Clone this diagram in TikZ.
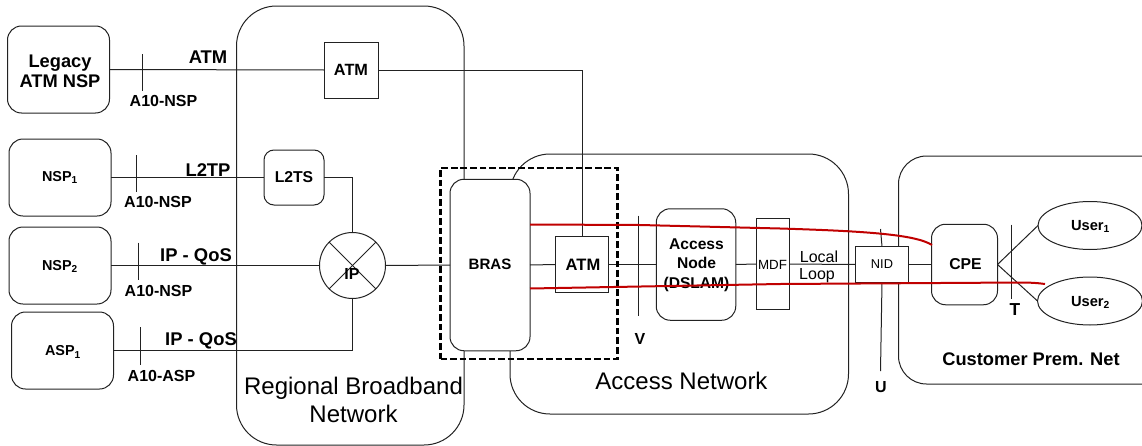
\documentclass[tikz,border=0pt]{standalone}
\usepackage{fontspec}
\usetikzlibrary{shapes.geometric}
\setmainfont{Liberation Sans}
\definecolor{redline}{HTML}{C00000}
\definecolor{ink}{HTML}{222222}
\newcommand{\pxfont}[1]{\fontsize{#1}{#1}\selectfont}
\tikzset{
  sz/.style 2 args={minimum width=#1*0.75pt,minimum height=#2*0.75pt},
  base/.style={draw=ink,line width=0.75pt,inner sep=0pt,outer sep=0pt,align=center},
  sharp/.style={base,rectangle,fill=white},
  softbox/.style={base,rectangle,fill=white,rounded corners=10.5pt},
  l2box/.style={base,rectangle,fill=white,rounded corners=7.5pt},
  region/.style={base,rectangle,rounded corners=30pt},
  cpnet/.style={base,rectangle,rounded corners=21pt},
  userell/.style={base,ellipse,fill=white},
  wire/.style={draw=ink,line width=0.75pt},
  redwire/.style={draw=redline,line width=1.5pt},
  dashbox/.style={draw=black,line width=1.6pt,dash pattern=on 5pt off 2.2pt},
  bigtxt/.style={inner sep=0pt,font=\pxfont{13.7}\bfseries,align=center},
  lbl/.style={inner sep=0pt,font=\pxfont{11.8}\bfseries,align=center},
  proto/.style={inner sep=0pt,font=\pxfont{13.8}\bfseries},
  reftxt/.style={inner sep=0pt,font=\pxfont{12}\bfseries},
  regtxt/.style={inner sep=0pt,font=\pxfont{18},align=center},
  thintxt/.style={inner sep=0pt,font=\pxfont{12},align=center}
}
\begin{document}
\begin{tikzpicture}[x=0.75pt,y=-0.75pt]
\useasboundingbox (0,0) rectangle (1142,446);
\clip (0,0) rectangle (1142,446);
% containers
\node[region,sz={227.5}{439}] (rbn) at (350.25,225.5) {};
\node[region,sz={338.5}{260}] (an) at (679.25,284) {};
\node[cpnet,sz={280}{228}] (cpn) at (1038.5,270) {};
% connector end points
\coordinate (t1a) at (142.5,54);  \coordinate (t1b) at (142.5,91);
\coordinate (t2a) at (136.5,155); \coordinate (t2b) at (136.5,192);
\coordinate (t3a) at (138,242.5); \coordinate (t3b) at (138,280);
\coordinate (t4a) at (140.5,327); \coordinate (t4b) at (140.5,365);
\coordinate (va) at (638.5,215.5); \coordinate (vb) at (638.5,316);
\coordinate (ua) at (880.5,229);  \coordinate (ub) at (880.5,371);
\coordinate (ta) at (1011.5,224.5); \coordinate (tb) at (1011.5,299);
\coordinate (elbowA) at (582,70);
\coordinate (elbowB) at (352.5,350.5);
\coordinate (elbowC) at (352.5,177.5);
% boxes
\node[softbox,sz={102}{87}] (legacy) at (58.5,69.5) {};
\node[softbox,sz={102}{77}] (nsp1) at (60,177.5) {};
\node[softbox,sz={102}{77}] (nsp2) at (60,265.5) {};
\node[softbox,sz={102}{77}] (asp1) at (62.5,350.5) {};
\node[sharp,sz={54}{56}] (atma) at (351,70) {};
\node[l2box,sz={60}{55}] (l2ts) at (294,177.5) {};
\node[base,circle,fill=white,minimum size=66*0.75pt] (ip) at (352.5,265.5) {};
\node[sharp,sz={53.5}{55.5}] (atmb) at (582,264.5) {};
\node[softbox,sz={79.5}{111.5}] (dslam) at (696,264.5) {};
\node[sharp,sz={33}{91}] (mdf) at (773,264) {};
\node[sharp,sz={53.5}{36}] (nid) at (882,264.5) {};
\node[softbox,sz={66}{80.5}] (cpe) at (964.5,264.5) {};
% connectors
\draw[wire] (legacy.east) -- (atma.west);
\draw[wire] (atma.east) -- (elbowA) -- (atmb.north);
\draw[wire] (nsp1.east) -- (l2ts.west);
\draw[wire] (l2ts.east) -- (elbowC) -- (ip.north);
\draw[wire] (nsp2.east) -- (ip.west);
\draw[wire] (asp1.east) -- (elbowB) -- (ip.south);
\draw[wire] (ip.45) -- (ip.225);
\draw[wire] (ip.135) -- (ip.315);
\draw[wire] (t1a) -- (t1b);
\draw[wire] (t2a) -- (t2b);
\draw[wire] (t3a) -- (t3b);
\draw[wire] (t4a) -- (t4b);
\draw[wire] (ua) -- (nid.north);
\draw[wire] (nid.south) -- (ub);
% BRAS hides what passes behind it
\node[softbox,sz={80}{171.5}] (bras) at (490,265) {};
\draw[wire] (ip.east) -- (bras.west);
\draw[wire] (bras.east) -- (atmb.west);
\draw[wire] (atmb.east) -- (dslam.west);
\draw[wire] (dslam.east) -- (mdf.west);
\draw[wire] (mdf.east) -- (nid.west);
\draw[wire] (nid.east) -- (cpe.west);
\draw[wire] (va) -- (vb);
\draw[wire] (ta) -- (tb);
% users
\node[userell,sz={104}{48}] (user1) at (1090,225.5) {};
\node[userell,sz={105}{48}] (user2) at (1090,301) {};
\draw[wire] (cpe.east) -- (user1.west);
\draw[wire] (cpe.east) -- (user2.west);
% dashed frame
\node[dashbox,rectangle,sz={177}{191},inner sep=0pt,outer sep=0pt] (frame) at (529,263.5) {};
% texts
\node[bigtxt] (tLegacy) at (60,71.5) {Legacy\\[1.3pt]ATM NSP};
\node[lbl,font=\pxfont{10.8}\bfseries] (tN1) at (60,177.5) {NSP\textsubscript{1}};
\node[lbl,font=\pxfont{10.8}\bfseries] (tN2) at (60,266.5) {NSP\textsubscript{2}};
\node[lbl,font=\pxfont{10.8}\bfseries] (tA1) at (63,352) {ASP\textsubscript{1}};
\node[lbl,font=\pxfont{12.2}\bfseries] (tAtmA) at (351,70) {ATM};
\node[lbl] (tL2) at (294,177.5) {L2TS};
\node[lbl,font=\pxfont{12}\bfseries] (tIP) at (352,274) {IP};
\node[lbl,font=\pxfont{11.3}\bfseries] (tBras) at (490,264.5) {BRAS};
\node[lbl,font=\pxfont{12.4}\bfseries] (tAtmB) at (583,264.5) {ATM};
\node[lbl,font=\pxfont{11.7}\bfseries] (tDslam) at (696.5,265) {Access\\[3pt]Node\\[3pt](DSLAM)};
\node[thintxt,font=\pxfont{10}] (tMdf) at (772.5,264.5) {MDF};
\node[thintxt,font=\pxfont{9.6}] (tNid) at (882,264.5) {NID};
\node[thintxt] (tLocal) at (819,257) {Local};
\node[thintxt] (tLoop) at (817,276) {Loop};
\node[lbl,font=\pxfont{11.8}\bfseries] (tCpe) at (965.5,264.5) {CPE};
\node[lbl,font=\pxfont{11}\bfseries] (tU1) at (1090.5,226.5) {User\textsubscript{1}};
\node[lbl,font=\pxfont{11}\bfseries] (tU2) at (1090.5,302.5) {User\textsubscript{2}};
\node[proto] (pAtm) at (208,57) {ATM};
\node[proto] (pL2) at (208,170) {L2TP};
\node[proto] (pIp1) at (196,257) {IP - QoS};
\node[proto] (pIp2) at (201,341) {IP - QoS};
\node[reftxt] (a1) at (163.5,101) {A10-NSP};
\node[reftxt] (a2) at (158,202) {A10-NSP};
\node[reftxt] (a3) at (158.5,291) {A10-NSP};
\node[reftxt] (a4) at (161.5,376) {A10-ASP};
\node[reftxt] (tV) at (640,339) {V};
\node[reftxt] (tU) at (881,387) {U};
\node[lbl,font=\pxfont{13}\bfseries] (tT) at (1015,310) {T};
\node[regtxt] (tRbn) at (353.5,400) {Regional Broadband\\[3pt]Network};
\node[regtxt] (tAn) at (681.5,381) {Access Network};
\node[lbl,font=\pxfont{13.7}\bfseries] (tCn) at (1031,359) {Customer Prem. Net};
% red paths
\coordinate (r1a) at (530,224.5);
\coordinate (r1b) at (932,245);
\coordinate (r2a) at (530,288.5);
\coordinate (r2b) at (1045,284);
\draw[redwire] (r1a) -- (640,225) -- (780,228.5) .. controls (860,231) and (915,234) .. (r1b);
\draw[redwire] (r2a) -- (780,284) -- (1020,282.5) .. controls (1030,282.5) and (1038,283) .. (r2b);
\end{tikzpicture}
\end{document}
